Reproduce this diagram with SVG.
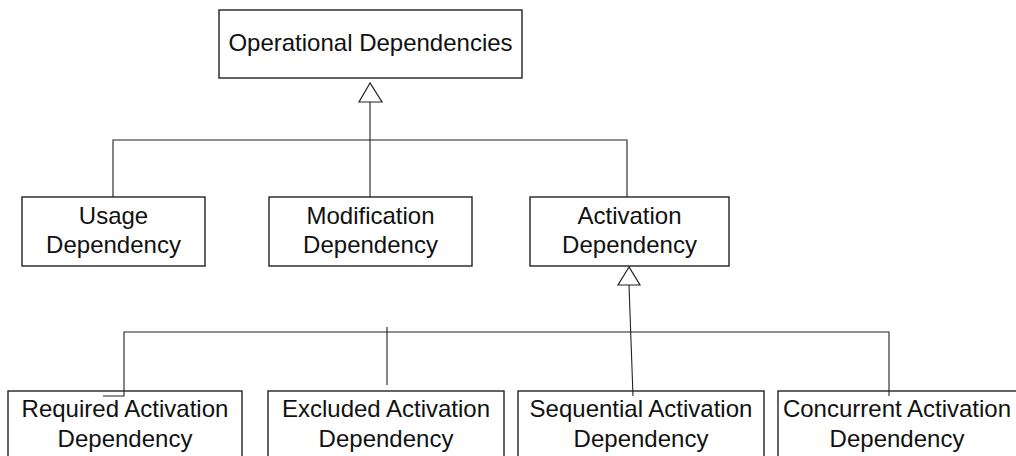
<svg xmlns="http://www.w3.org/2000/svg" width="1016" height="456" viewBox="0 0 1016 456">
  <style>
    .box { fill: #ffffff; stroke: #222222; stroke-width: 1.4; }
    .lbl { font-family: "Liberation Sans", Arial, sans-serif; font-size: 24px; fill: #111111; text-anchor: middle; }
    .wire { fill: none; stroke: #222222; stroke-width: 1.1; }
    .head { fill: #ffffff; stroke: #222222; stroke-width: 1.2; }
  </style>
  <rect width="1016" height="456" fill="#ffffff"/>

  <g id="operational-dependencies">
    <rect class="box" x="219" y="10" width="303" height="68"/>
    <text class="lbl" x="370.5" y="51">Operational Dependencies</text>
  </g>

  <g id="usage-dependency">
    <rect class="box" x="22" y="197" width="183" height="69"/>
    <text class="lbl" x="113.5" y="224">Usage</text>
    <text class="lbl" x="113.5" y="253">Dependency</text>
  </g>

  <g id="modification-dependency">
    <rect class="box" x="269" y="197" width="203" height="69"/>
    <text class="lbl" x="370.5" y="224">Modification</text>
    <text class="lbl" x="370.5" y="253">Dependency</text>
  </g>

  <g id="activation-dependency">
    <rect class="box" x="530" y="197" width="199" height="69"/>
    <text class="lbl" x="629.5" y="224">Activation</text>
    <text class="lbl" x="629.5" y="253">Dependency</text>
  </g>

  <g id="required-activation-dependency">
    <rect class="box" x="8" y="391" width="234" height="80"/>
    <text class="lbl" x="125" y="417">Required Activation</text>
    <text class="lbl" x="125" y="447">Dependency</text>
  </g>

  <g id="excluded-activation-dependency">
    <rect class="box" x="268" y="391" width="236" height="80"/>
    <text class="lbl" x="386" y="417">Excluded Activation</text>
    <text class="lbl" x="386" y="447">Dependency</text>
  </g>

  <g id="sequential-activation-dependency">
    <rect class="box" x="518" y="391" width="246" height="80"/>
    <text class="lbl" x="641" y="417">Sequential Activation</text>
    <text class="lbl" x="641" y="447">Dependency</text>
  </g>

  <g id="concurrent-activation-dependency">
    <rect class="box" x="778" y="391" width="250" height="80"/>
    <text class="lbl" x="897" y="417">Concurrent Activation</text>
    <text class="lbl" x="897" y="447">Dependency</text>
  </g>

  <!-- connectors drawn last so their ends show over the box edges -->
  <g id="connectors">
    <!-- generalisation to Operational Dependencies -->
    <polyline class="wire" points="113,197 113,140 627,140 627,197"/>
    <line class="wire" x1="370" y1="102" x2="370" y2="197"/>
    <polygon class="head" points="370,83 359,102 382,102"/>
    <!-- generalisation to Activation Dependency -->
    <polyline class="wire" points="103,396 124,396 124,332 889,332 889,396"/>
    <line class="wire" x1="387" y1="327" x2="387" y2="385"/>
    <line class="wire" x1="629" y1="285" x2="633" y2="396"/>
    <polygon class="head" points="629,267 618,285 640,285"/>
  </g>
</svg>
